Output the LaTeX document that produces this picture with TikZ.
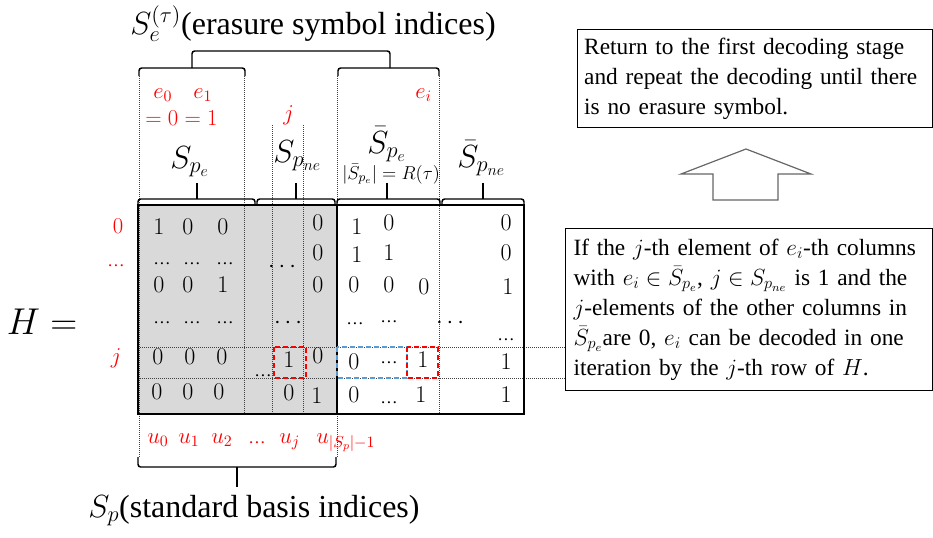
\RequirePackage{fix-cm}
\documentclass[tikz,border=0pt]{standalone}
\usepackage{fontspec}
\setmainfont{Liberation Serif}
\definecolor{grayfill}{RGB}{217,217,217}
\definecolor{myblue}{RGB}{91,155,213}
\definecolor{myred}{RGB}{255,0,0}
\newcommand\mydots{{\fontsize{13}{14}\selectfont …}}
\begin{document}
\begin{tikzpicture}[x=0.75pt,y=-0.75pt,
  num/.style={font=\fontsize{18}{20}\selectfont, inner sep=0pt},
  lbl/.style={font=\fontsize{24}{28}\selectfont, inner sep=0pt},
  sml/.style={font=\fontsize{14}{16}\selectfont, inner sep=0pt},
  rl/.style={text=myred, font=\fontsize{17}{20}\selectfont, inner sep=0pt},
  brk/.style={line width=1.1pt, rounded corners=2pt},
  guide/.style={densely dotted, line width=0.5pt, black!75},
  txtbox/.style={draw, line width=0.8pt, align=left, inner ysep=3pt, font=\fontsize{17.5}{22.5}\selectfont},
  selred/.style={draw=myred, dash pattern=on 4pt off 2pt, line width=1.6pt},
  selblue/.style={draw=myblue, dash pattern=on 4pt off 2pt, line width=1.6pt}]
\useasboundingbox (0,0) rectangle (933,537);

% gray area
\fill[grayfill] (138,205) rectangle (337,414);

% guide lines
\draw[guide] (139,76) -- (139,457);
\draw[guide] (244,76) -- (244,414);
\draw[guide] (272,125) -- (272,414);
\draw[guide] (303,125) -- (303,414);
\draw[guide] (337,76) -- (337,457);
\draw[guide] (439,76) -- (439,414);
\draw[guide] (138,347) -- (565,347);
\draw[guide] (138,378) -- (565,378);

% matrix border
\draw[line width=1.5pt] (138,205) rectangle (524,414);
\draw[line width=1.2pt] (337,205) -- (337,414);

% top brackets
\draw[brk] (139,76) |- (192,68) -| (245,76);
\draw[brk] (338,76) |- (390,68) -| (439,76);
\draw[brk] (192,68) -- (192,51) -- (390,51) -- (390,68);

% column brackets
\draw[brk] (138,205) |- (197,199) -| (255,205);
\draw[brk] (197,199) -- (197,183);
\draw[brk] (257,205) |- (296,199) -| (335,205);
\draw[brk] (296,199) -- (296,183);
\draw[brk] (337,205) |- (387,199) -| (440,205);
\draw[brk] (387,199) -- (387,183);
\draw[brk] (442,205) |- (483,199) -| (524,205);
\draw[brk] (483,199) -- (483,183);

% bottom bracket
\draw[brk] (138,457) |- (237,467) -| (336,457);
\draw[brk] (237,467) -- (237,487);

% labels
\node[lbl, anchor=base west] (se) at (130,34) {$S_e^{(\tau)}$(erasure symbol indices)};
\node[lbl, anchor=base west] (sp) at (88,517) {$S_p$(standard basis indices)};
\node[lbl, anchor=base west] (spe) at (170,168) {$S_{p_e}$};
\node[lbl, anchor=base west] (spne) at (273,162) {$S_{p_{ne}}$};
\node[lbl, anchor=base west] (sbpe) at (367,153) {$\bar{S}_{p_e}$};
\node[sml, anchor=base west] (card) at (342,179) {$|\bar{S}_{p_e}| = R(\tau)$};
\node[lbl, anchor=base west] (sbpne) at (457,167) {$\bar{S}_{p_{ne}}$};
\node[font=\fontsize{28}{32}\selectfont, inner sep=0pt] (H) at (42,322) {$H =$};

% red labels
\node[rl, anchor=base west] (e0) at (153,98) {$e_0$};
\node[rl, anchor=base west] (e1) at (193,98) {$e_1$};
\node[rl, anchor=base west] (eq) at (145,125) {$= 0 = 1$};
\node[rl, anchor=base west] (ei) at (415,98) {$e_i$};
\node[rl, anchor=base west] (jtop) at (283,120) {$j$};
\node[rl] (r0) at (118,226) {$0$};
\node[rl, anchor=base] (rd) at (116,266) {\mydots};
\node[rl] (rj) at (116,358) {$j$};
\node[rl, anchor=base west] (u0) at (147,443) {$u_0$};
\node[rl, anchor=base west] (u1) at (178,443) {$u_1$};
\node[rl, anchor=base west] (u2) at (211,443) {$u_2$};
\node[rl, anchor=base west] (ud) at (248,443) {\mydots};
\node[rl, anchor=base west] (uj) at (279,443) {$u_j$};
\node[rl, anchor=base west] (ul) at (316,443) {$u_{|S_p|-1}$};

% gray block entries
\node[num] (a00) at (159,227) {$1$};
\node[num] (a01) at (188,227) {$0$};
\node[num] (a02) at (223,227) {$0$};
\node[num, anchor=base] (a10) at (162,264) {\mydots};
\node[num, anchor=base] (a11) at (192,264) {\mydots};
\node[num, anchor=base] (a12) at (225,264) {\mydots};
\node[num] (a20) at (159,285) {$0$};
\node[num] (a21) at (188,285) {$0$};
\node[num] (a22) at (223,285) {$1$};
\node[num, anchor=base] (a30) at (162,323) {\mydots};
\node[num, anchor=base] (a31) at (192,323) {\mydots};
\node[num, anchor=base] (a32) at (225,323) {\mydots};
\node[num] (a40) at (158,357) {$0$};
\node[num] (a41) at (190,357) {$0$};
\node[num] (a42) at (222,357) {$0$};
\node[num] (a50) at (157,392) {$0$};
\node[num] (a51) at (188,392) {$0$};
\node[num] (a52) at (219,392) {$0$};

% S_pne columns
\node[num] (b0) at (282,267) {$\cdots$};
\node[num] (b1) at (288,323) {$\cdots$};
\node[num, anchor=base] (b2) at (263,376) {\mydots};
\node[num] (b3) at (289,360) {$1$};
\node[num] (b4) at (289,393) {$0$};
\node[num] (c0) at (318,223) {$0$};
\node[num] (c1) at (318,253) {$0$};
\node[num] (c2) at (318,285) {$0$};
\node[num] (c3) at (318,356) {$0$};
\node[num] (c4) at (317,396) {$1$};

% white section
\node[num] (d00) at (357,227) {$1$};
\node[num] (d01) at (389,223) {$0$};
\node[num] (d10) at (357,255) {$1$};
\node[num] (d11) at (389,253) {$1$};
\node[num] (d20) at (354,285) {$0$};
\node[num] (d21) at (389,285) {$0$};
\node[num] (d22) at (424,287) {$0$};
\node[num, anchor=base] (d30) at (355,324) {\mydots};
\node[num, anchor=base] (d31) at (389,322) {\mydots};
\node[num] (d32) at (450,323) {$\cdots$};
\node[num] (d40) at (354,362) {$0$};
\node[num, anchor=base] (d41) at (389,363) {\mydots};
\node[num] (d42) at (423,360) {$1$};
\node[num] (d50) at (354,395) {$0$};
\node[num, anchor=base] (d51) at (389,403) {\mydots};
\node[num] (d52) at (421,395) {$1$};
\node[num] (f0) at (506,223) {$0$};
\node[num] (f1) at (506,253) {$0$};
\node[num] (f2) at (508,287) {$1$};
\node[num, anchor=base] (f3) at (506,340) {\mydots};
\node[num] (f4) at (506,362) {$1$};
\node[num] (f5) at (506,395) {$1$};

% selection boxes
\draw[selred] (274,347) rectangle (306,378);
\draw[selblue] (337,347) rectangle (407,378);
\draw[selred] (407,347) rectangle (438,378);

% text boxes
\node[txtbox, inner xsep=5pt, anchor=north west, text width=256pt, minimum height=73.5pt] (ret) at (577,29)
  {Return to the first decoding stage\\and repeat the decoding until there\\is no erasure symbol.};
\node[txtbox, inner xsep=6pt, anchor=north west, text width=263pt, minimum height=121.5pt] (cond) at (565,228)
  {If the $j$-th element of $e_i$-th columns\\
   with $e_i \in \bar{S}_{p_e}$,\ $j \in S_{p_{ne}}$ is 1 and the\\
   $j$-elements of the other columns in\\
   $\bar{S}_{p_e}$are 0, $e_i$ can be decoded in one\\
   iteration by the $j$-th row of $H$.};

% hollow up arrow
\draw[black!60, line width=0.9pt] (746,149) -- (811,174) -- (778,174) -- (778,200)
  -- (713,200) -- (713,174) -- (681,174) -- cycle;
\end{tikzpicture}
\end{document}
